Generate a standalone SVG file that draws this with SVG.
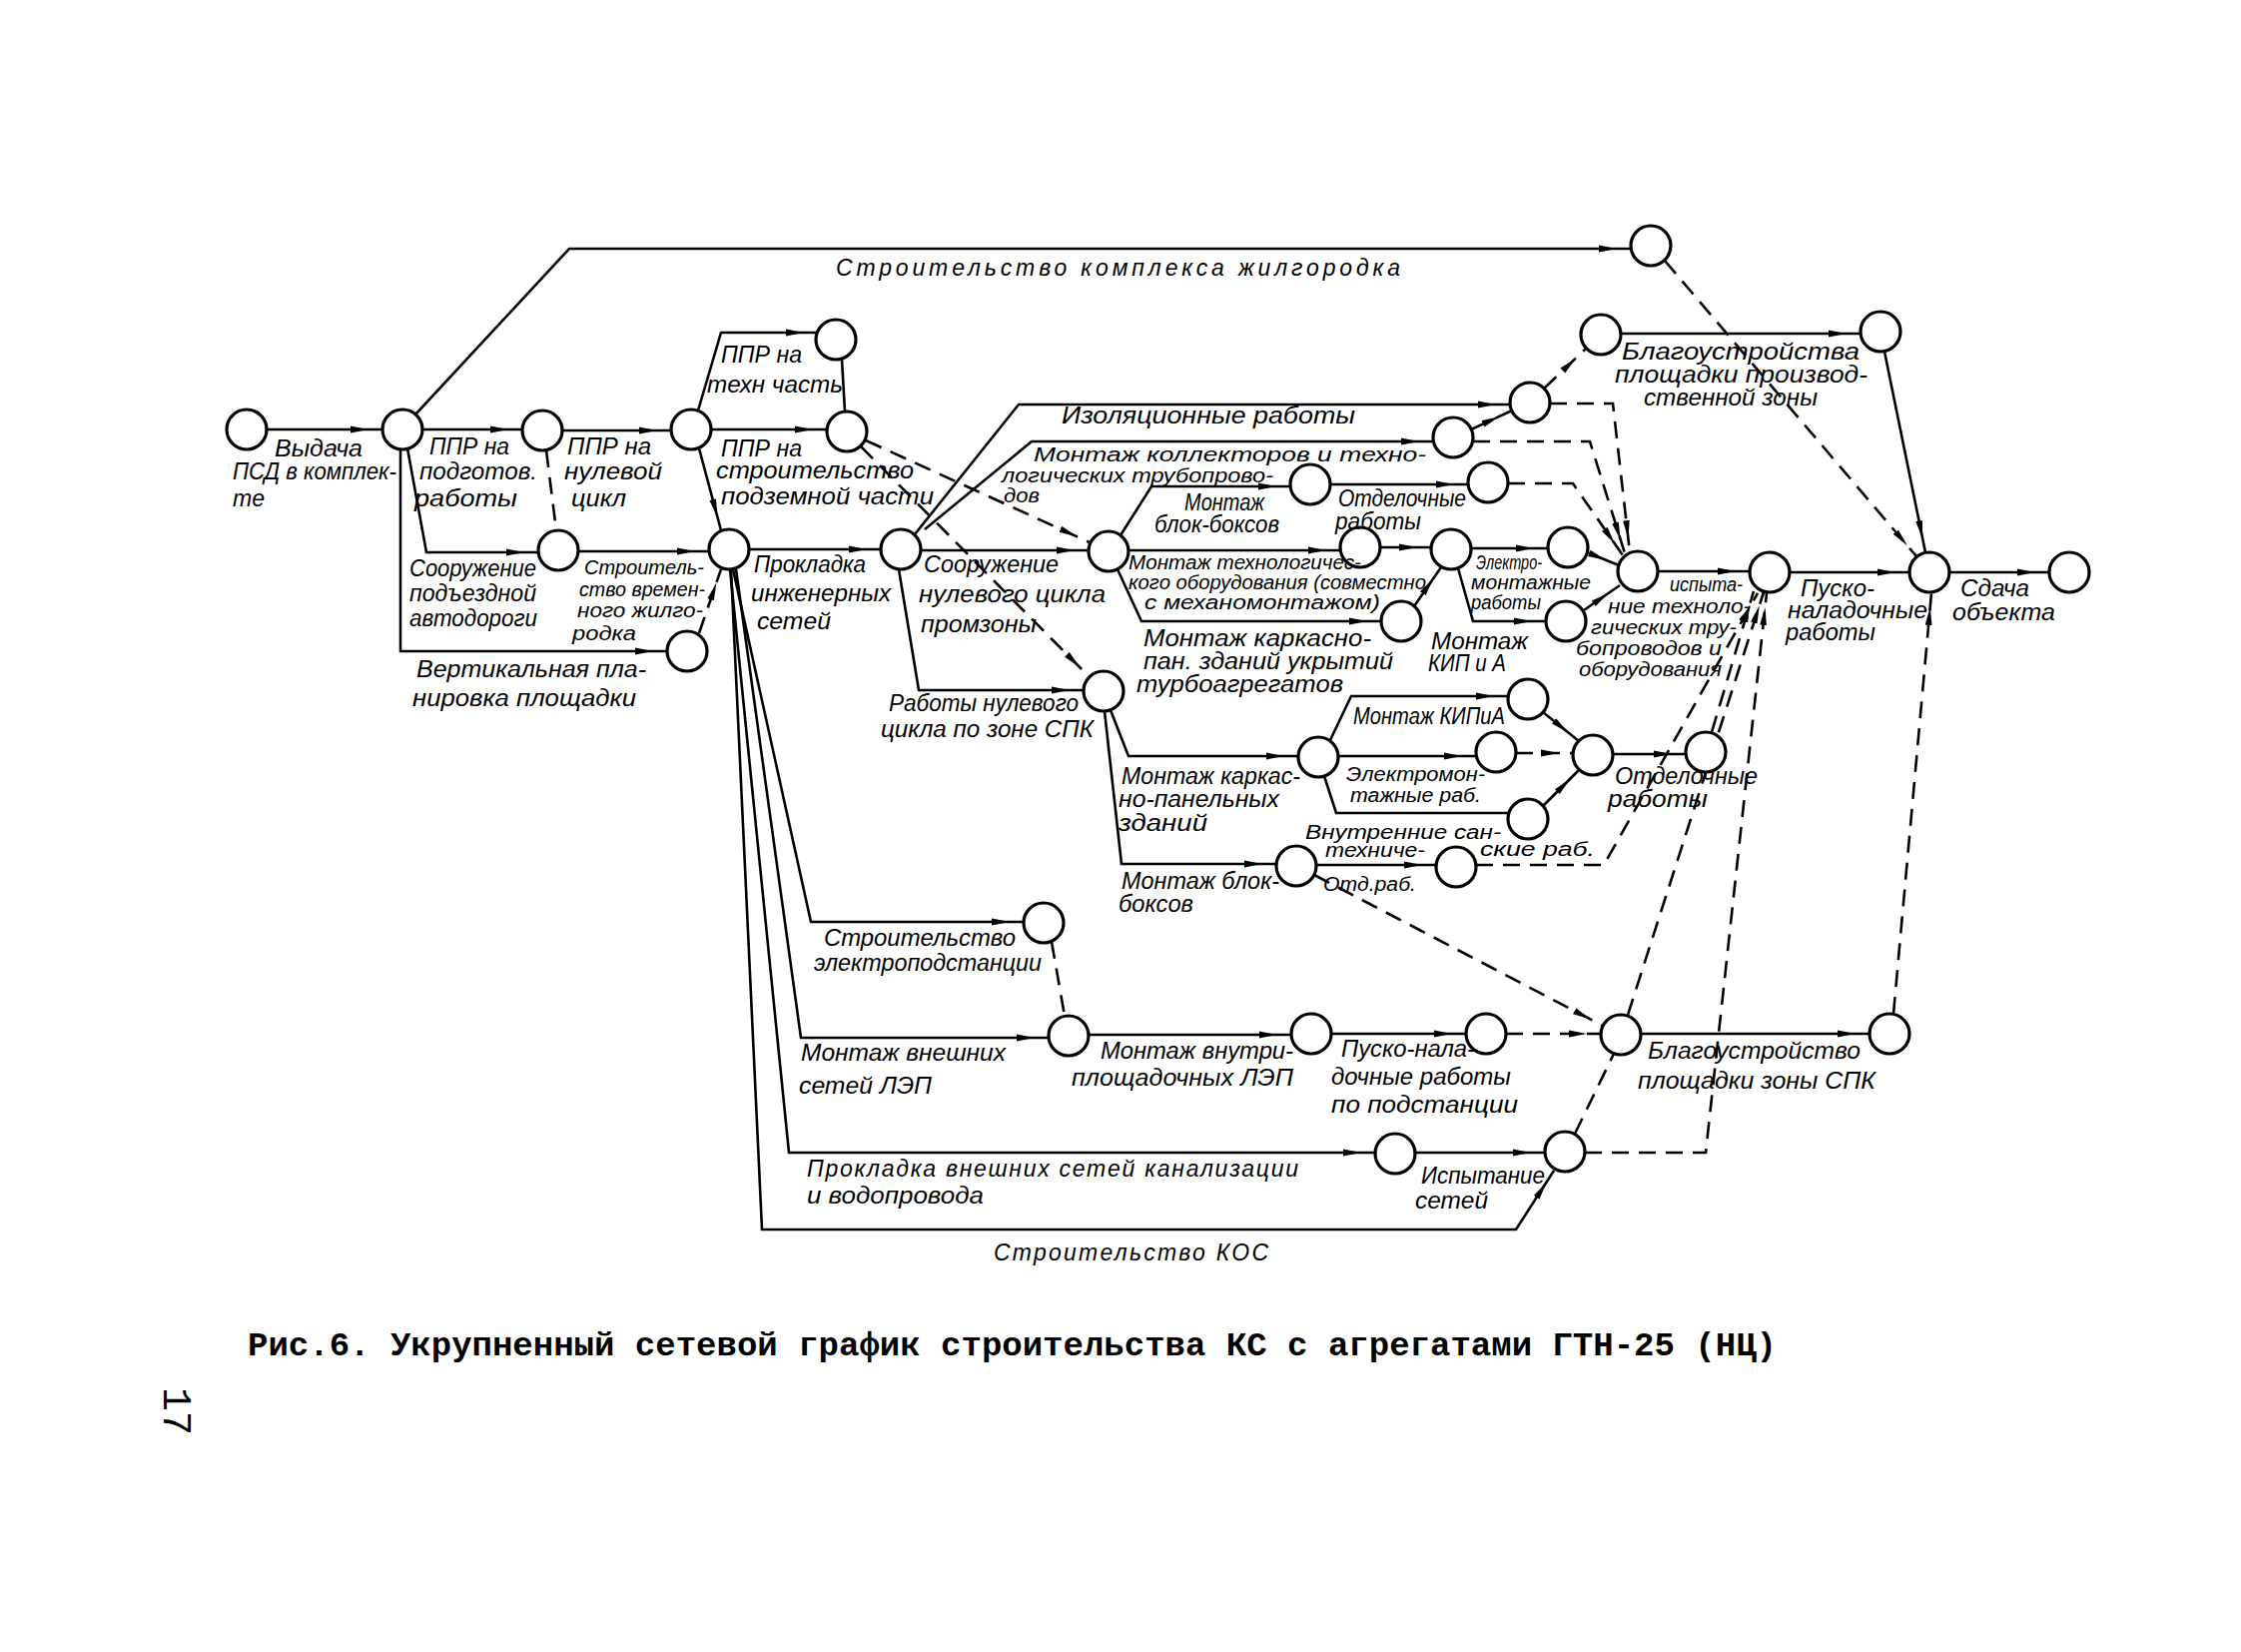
<svg xmlns="http://www.w3.org/2000/svg" width="2244" height="1654" viewBox="0 0 2244 1654">
<defs>
<marker id="ah" viewBox="0 0 34 10" refX="32" refY="5" markerWidth="34" markerHeight="10" markerUnits="userSpaceOnUse" orient="auto"><path d="M0,1.6 L18,5 L0,8.4 Z" fill="#000"/></marker>
<style>
.c{fill:none;stroke:#000;stroke-width:2.6}
.d{stroke-dasharray:17 10}
.a{marker-end:url(#ah)}
.n{fill:#fff;stroke:#000;stroke-width:3.2}
.t{font-family:"Liberation Sans",Arial,sans-serif;font-style:italic;font-size:23px;fill:#000}
.s{font-size:20px}
.cap{font-family:"Liberation Mono","Courier New",monospace;font-weight:bold;font-size:34px;fill:#000}
</style>
</defs>
<rect width="2244" height="1654" fill="#fff"/>
<g id="connectors">
<path class="c a" d="M267,430 H383"/>
<path class="c a" d="M423,430 H523"/>
<path class="c a" d="M563,431 H672"/>
<path class="c a" d="M416,415 L570,249 H1633"/>
<path class="c a" d="M408,449 L427,553 H539"/>
<path class="c a" d="M401,450 V652 H668"/>
<path class="c d" d="M547,451 L557,531"/>
<path class="c a" d="M699,411 L722,333 H819"/>
<path class="c a" d="M712,430 H828"/>
<path class="c" d="M843,360 L846,412"/>
<path class="c a" d="M700,449 L722,531"/>
<path class="c a" d="M579,552 H710"/>
<path class="c d a" d="M700,634 L722,570"/>
<path class="c d a" d="M867,441 L1091,543"/>
<path class="c d a" d="M862,447 L1091,678"/>
<path class="c a" d="M750,550 H882"/>
<path class="c a" d="M922,551 H1090"/>
<path class="c a" d="M900,570 L920,691 H1085"/>
<path class="c a" d="M916,535 L1020,405 H1512"/>
<path class="c a" d="M926,530 L1033,442 H1435"/>
<path class="c a" d="M1122,536 L1153,487 H1292"/>
<path class="c a" d="M1130,551 H1342"/>
<path class="c a" d="M1119,570 L1143,622 H1383"/>
<path class="c a" d="M1332,485 H1470"/>
<path class="c a" d="M1382,548 H1433"/>
<path class="c a" d="M1473,549 H1550"/>
<path class="c a" d="M1460,569 L1475,622 H1548"/>
<path class="c a" d="M1416,607 L1443,568"/>
<path class="c a" d="M1589,553 L1621,566"/>
<path class="c a" d="M1586,611 L1622,586"/>
<path class="c d a" d="M1546,389 L1588,349"/>
<path class="c d a" d="M1473,430 L1514,411"/>
<path class="c d a" d="M1552,404 H1615 L1632,553"/>
<path class="c d a" d="M1475,442 H1592 L1627,554"/>
<path class="c d a" d="M1510,484 H1575 L1625,556"/>
<path class="c a" d="M1623,334 H1863"/>
<path class="c d a" d="M1667,261 L1919,557"/>
<path class="c a" d="M1887,352 L1928,553"/>
<path class="c a" d="M1660,572 H1752"/>
<path class="c a" d="M1792,573 H1912"/>
<path class="c a" d="M1952,573 H2052"/>
<path class="c a" d="M1112,711 L1130,757 H1300"/>
<path class="c a" d="M1106,712 L1123,865 H1278"/>
<path class="c a" d="M1332,741 L1353,697 H1510"/>
<path class="c a" d="M1340,757 H1478"/>
<path class="c" d="M1326,777 L1338,814 H1510"/>
<path class="c a" d="M1545,713 L1581,742"/>
<path class="c d a" d="M1518,754 H1575"/>
<path class="c a" d="M1545,807 L1582,770"/>
<path class="c a" d="M1615,755 H1688"/>
<path class="c a" d="M1318,866 H1438"/>
<path class="c d a" d="M1478,866 H1606 L1760,594"/>
<path class="c d a" d="M1316,876 L1605,1027"/>
<path class="c d" d="M1053,943 L1066,1017"/>
<path class="c a" d="M1090,1036 H1293"/>
<path class="c a" d="M1333,1035 H1468"/>
<path class="c d a" d="M1508,1035 H1603"/>
<path class="c a" d="M1643,1035 H1872"/>
<path class="c d a" d="M1896,1015 L1934,594"/>
<path class="c a" d="M1417,1154 H1547"/>
<path class="c d" d="M1577,1135 L1616,1055"/>
<path class="c d a" d="M1587,1154 H1708 L1769,594"/>
<path class="c d a" d="M1630,1016 L1766,593"/>
<path class="c d a" d="M1714,733 L1756,592"/>
<path class="c a" d="M732,570 L763,1231 H1518 L1556,1172"/>
<path class="c a" d="M731,570 L790,1154 H1377"/>
<path class="c a" d="M737,570 L802,1039 H1050"/>
<path class="c a" d="M734,570 L812,923 H1025"/>
</g>
<g id="n1"><circle class="n" cx="247" cy="430" r="20"/></g>
<g id="n2"><circle class="n" cx="403" cy="430" r="20"/></g>
<g id="n3"><circle class="n" cx="543" cy="431" r="20"/></g>
<g id="n4"><circle class="n" cx="692" cy="430" r="20"/></g>
<g id="n5"><circle class="n" cx="837" cy="340" r="20"/></g>
<g id="n6"><circle class="n" cx="848" cy="432" r="20"/></g>
<g id="n7"><circle class="n" cx="559" cy="551" r="20"/></g>
<g id="n8"><circle class="n" cx="688" cy="652" r="20"/></g>
<g id="n9"><circle class="n" cx="730" cy="550" r="20"/></g>
<g id="n10"><circle class="n" cx="902" cy="550" r="20"/></g>
<g id="n11"><circle class="n" cx="1110" cy="552" r="20"/></g>
<g id="n12"><circle class="n" cx="1105" cy="692" r="20"/></g>
<g id="n13"><circle class="n" cx="1653" cy="246" r="20"/></g>
<g id="n14"><circle class="n" cx="1603" cy="335" r="20"/></g>
<g id="n15"><circle class="n" cx="1883" cy="332" r="20"/></g>
<g id="n16"><circle class="n" cx="1532" cy="403" r="20"/></g>
<g id="n17"><circle class="n" cx="1455" cy="438" r="20"/></g>
<g id="n18"><circle class="n" cx="1312" cy="485" r="20"/></g>
<g id="n19"><circle class="n" cx="1490" cy="483" r="20"/></g>
<g id="n20"><circle class="n" cx="1362" cy="548" r="20"/></g>
<g id="n21"><circle class="n" cx="1453" cy="550" r="20"/></g>
<g id="n22"><circle class="n" cx="1570" cy="548" r="20"/></g>
<g id="n23"><circle class="n" cx="1568" cy="622" r="20"/></g>
<g id="n24"><circle class="n" cx="1403" cy="622" r="20"/></g>
<g id="n25"><circle class="n" cx="1640" cy="572" r="20"/></g>
<g id="n26"><circle class="n" cx="1772" cy="573" r="20"/></g>
<g id="n27"><circle class="n" cx="1932" cy="573" r="20"/></g>
<g id="n28"><circle class="n" cx="2072" cy="573" r="20"/></g>
<g id="n29"><circle class="n" cx="1320" cy="758" r="20"/></g>
<g id="n30"><circle class="n" cx="1530" cy="700" r="20"/></g>
<g id="n31"><circle class="n" cx="1498" cy="753" r="20"/></g>
<g id="n32"><circle class="n" cx="1530" cy="820" r="20"/></g>
<g id="n33"><circle class="n" cx="1595" cy="756" r="20"/></g>
<g id="n34"><circle class="n" cx="1708" cy="753" r="20"/></g>
<g id="n35"><circle class="n" cx="1298" cy="867" r="20"/></g>
<g id="n36"><circle class="n" cx="1458" cy="868" r="20"/></g>
<g id="n37"><circle class="n" cx="1045" cy="924" r="20"/></g>
<g id="n38"><circle class="n" cx="1070" cy="1037" r="20"/></g>
<g id="n39"><circle class="n" cx="1313" cy="1035" r="20"/></g>
<g id="n40"><circle class="n" cx="1488" cy="1035" r="20"/></g>
<g id="n41"><circle class="n" cx="1623" cy="1036" r="20"/></g>
<g id="n42"><circle class="n" cx="1892" cy="1035" r="20"/></g>
<g id="n43"><circle class="n" cx="1397" cy="1155" r="20"/></g>
<g id="n44"><circle class="n" cx="1567" cy="1153" r="20"/></g>
<g id="labels" class="t">
<text x="275" y="457" textLength="88" lengthAdjust="spacingAndGlyphs">Выдача</text>
<text x="233" y="480" textLength="164" lengthAdjust="spacingAndGlyphs">ПСД в комплек-</text>
<text x="233" y="507" textLength="32" lengthAdjust="spacingAndGlyphs">те</text>
<text x="430" y="455" textLength="80" lengthAdjust="spacingAndGlyphs">ППР на</text>
<text x="420" y="480" textLength="118" lengthAdjust="spacingAndGlyphs">подготов.</text>
<text x="415" y="507" textLength="103" lengthAdjust="spacingAndGlyphs">работы</text>
<text x="568" y="455" textLength="84" lengthAdjust="spacingAndGlyphs">ППР на</text>
<text x="565" y="480" textLength="98" lengthAdjust="spacingAndGlyphs">нулевой</text>
<text x="572" y="507" textLength="55" lengthAdjust="spacingAndGlyphs">цикл</text>
<text x="410" y="577" textLength="127" lengthAdjust="spacingAndGlyphs">Сооружение</text>
<text x="410" y="602" textLength="127" lengthAdjust="spacingAndGlyphs">подъездной</text>
<text x="410" y="627" textLength="128" lengthAdjust="spacingAndGlyphs">автодороги</text>
<g class="s">
<text x="585" y="575" textLength="120" lengthAdjust="spacingAndGlyphs">Строитель-</text>
<text x="580" y="597" textLength="126" lengthAdjust="spacingAndGlyphs">ство времен-</text>
<text x="578" y="618" textLength="126" lengthAdjust="spacingAndGlyphs">ного жилго-</text>
<text x="573" y="641" textLength="64" lengthAdjust="spacingAndGlyphs">родка</text>
</g>
<text x="417" y="678" textLength="230" lengthAdjust="spacingAndGlyphs">Вертикальная пла-</text>
<text x="413" y="707" textLength="224" lengthAdjust="spacingAndGlyphs">нировка площадки</text>
<text x="722" y="363" textLength="81" lengthAdjust="spacingAndGlyphs">ППР на</text>
<text x="708" y="393" textLength="136" lengthAdjust="spacingAndGlyphs">техн часть</text>
<text x="722" y="457" textLength="81" lengthAdjust="spacingAndGlyphs">ППР на</text>
<text x="717" y="479" textLength="198" lengthAdjust="spacingAndGlyphs">строительство</text>
<text x="722" y="505" textLength="213" lengthAdjust="spacingAndGlyphs">подземной части</text>
<text x="755" y="573" textLength="112" lengthAdjust="spacingAndGlyphs">Прокладка</text>
<text x="752" y="602" textLength="140" lengthAdjust="spacingAndGlyphs">инженерных</text>
<text x="758" y="630" textLength="74" lengthAdjust="spacingAndGlyphs">сетей</text>
<text x="925" y="573" textLength="135" lengthAdjust="spacingAndGlyphs">Сооружение</text>
<text x="920" y="603" textLength="187" lengthAdjust="spacingAndGlyphs">нулевого цикла</text>
<text x="922" y="633" textLength="116" lengthAdjust="spacingAndGlyphs">промзоны</text>
<text x="1063" y="424" textLength="294" lengthAdjust="spacingAndGlyphs">Изоляционные  работы</text>
<g class="s">
<text x="1035" y="462" textLength="393" lengthAdjust="spacingAndGlyphs">Монтаж коллекторов и техно-</text>
<text x="1003" y="483" textLength="272" lengthAdjust="spacingAndGlyphs">логических трубопрово-</text>
<text x="1005" y="503" textLength="36" lengthAdjust="spacingAndGlyphs">дов</text>
</g>
<text x="1186" y="511" textLength="80" lengthAdjust="spacingAndGlyphs">Монтаж</text>
<text x="1156" y="533" textLength="125" lengthAdjust="spacingAndGlyphs">блок-боксов</text>
<text x="1340" y="507" textLength="128" lengthAdjust="spacingAndGlyphs">Отделочные</text>
<text x="1337" y="530" textLength="86" lengthAdjust="spacingAndGlyphs">работы</text>
<g class="s">
<text x="1130" y="570" textLength="233" lengthAdjust="spacingAndGlyphs">Монтаж технологичес-</text>
<text x="1130" y="590" textLength="298" lengthAdjust="spacingAndGlyphs">кого оборудования (совместно</text>
<text x="1146" y="610" textLength="236" lengthAdjust="spacingAndGlyphs">с механомонтажом)</text>
</g>
<text x="1145" y="647" textLength="228" lengthAdjust="spacingAndGlyphs">Монтаж каркасно-</text>
<text x="1145" y="670" textLength="250" lengthAdjust="spacingAndGlyphs">пан. зданий укрытий</text>
<text x="1138" y="693" textLength="207" lengthAdjust="spacingAndGlyphs">турбоагрегатов</text>
<g class="s">
<text x="1478" y="570" textLength="66" lengthAdjust="spacingAndGlyphs">Электро-</text>
<text x="1473" y="590" textLength="120" lengthAdjust="spacingAndGlyphs">монтажные</text>
<text x="1473" y="610" textLength="70" lengthAdjust="spacingAndGlyphs">работы</text>
</g>
<text x="1433" y="650" textLength="97" lengthAdjust="spacingAndGlyphs">Монтаж</text>
<text x="1430" y="672" textLength="78" lengthAdjust="spacingAndGlyphs">КИП и А</text>
<g class="s">
<text x="1672" y="592" textLength="73" lengthAdjust="spacingAndGlyphs">испыта-</text>
<text x="1610" y="614" textLength="143" lengthAdjust="spacingAndGlyphs">ние техноло-</text>
<text x="1593" y="635" textLength="146" lengthAdjust="spacingAndGlyphs">гических тру-</text>
<text x="1578" y="656" textLength="146" lengthAdjust="spacingAndGlyphs">бопроводов и</text>
<text x="1581" y="677" textLength="143" lengthAdjust="spacingAndGlyphs">оборудования</text>
</g>
<text x="1803" y="597" textLength="74" lengthAdjust="spacingAndGlyphs">Пуско-</text>
<text x="1790" y="619" textLength="140" lengthAdjust="spacingAndGlyphs">наладочные</text>
<text x="1788" y="641" textLength="90" lengthAdjust="spacingAndGlyphs">работы</text>
<text x="1963" y="597" textLength="69" lengthAdjust="spacingAndGlyphs">Сдача</text>
<text x="1955" y="621" textLength="103" lengthAdjust="spacingAndGlyphs">объекта</text>
<text x="1624" y="360" textLength="238" lengthAdjust="spacingAndGlyphs">Благоустройства</text>
<text x="1617" y="383" textLength="253" lengthAdjust="spacingAndGlyphs">площадки производ-</text>
<text x="1646" y="406" textLength="174" lengthAdjust="spacingAndGlyphs">ственной зоны</text>
<text x="837" y="276" textLength="565" lengthAdjust="spacing">Строительство  комплекса   жилгородка</text>
<text x="890" y="712" textLength="190" lengthAdjust="spacingAndGlyphs">Работы нулевого</text>
<text x="882" y="738" textLength="213" lengthAdjust="spacingAndGlyphs">цикла по зоне СПК</text>
<text x="1123" y="785" textLength="179" lengthAdjust="spacingAndGlyphs">Монтаж каркас-</text>
<text x="1120" y="808" textLength="161" lengthAdjust="spacingAndGlyphs">но-панельных</text>
<text x="1120" y="832" textLength="89" lengthAdjust="spacingAndGlyphs">зданий</text>
<text x="1123" y="890" textLength="158" lengthAdjust="spacingAndGlyphs">Монтаж блок-</text>
<text x="1120" y="913" textLength="75" lengthAdjust="spacingAndGlyphs">боксов</text>
<text x="1355" y="725" textLength="152" lengthAdjust="spacingAndGlyphs">Монтаж КИПиА</text>
<g class="s">
<text x="1348" y="782" textLength="139" lengthAdjust="spacingAndGlyphs">Электромон-</text>
<text x="1352" y="803" textLength="131" lengthAdjust="spacingAndGlyphs">тажные раб.</text>
<text x="1307" y="840" textLength="196" lengthAdjust="spacingAndGlyphs">Внутренние сан-</text>
<text x="1327" y="858" textLength="100" lengthAdjust="spacingAndGlyphs">техниче-</text>
<text x="1482" y="857" textLength="115" lengthAdjust="spacingAndGlyphs">ские раб.</text>
<text x="1325" y="892" textLength="93" lengthAdjust="spacingAndGlyphs">Отд.раб.</text>
</g>
<text x="1617" y="785" textLength="143" lengthAdjust="spacingAndGlyphs">Отделочные</text>
<text x="1610" y="808" textLength="100" lengthAdjust="spacingAndGlyphs">работы</text>
<text x="825" y="947" textLength="192" lengthAdjust="spacingAndGlyphs">Строительство</text>
<text x="815" y="972" textLength="228" lengthAdjust="spacingAndGlyphs">электроподстанции</text>
<text x="802" y="1062" textLength="205" lengthAdjust="spacingAndGlyphs">Монтаж  внешних</text>
<text x="800" y="1095" textLength="133" lengthAdjust="spacingAndGlyphs">сетей  ЛЭП</text>
<text x="1102" y="1060" textLength="193" lengthAdjust="spacingAndGlyphs">Монтаж внутри-</text>
<text x="1073" y="1087" textLength="222" lengthAdjust="spacingAndGlyphs">площадочных ЛЭП</text>
<text x="1343" y="1058" textLength="134" lengthAdjust="spacingAndGlyphs">Пуско-нала-</text>
<text x="1333" y="1086" textLength="180" lengthAdjust="spacingAndGlyphs">дочные работы</text>
<text x="1333" y="1114" textLength="187" lengthAdjust="spacingAndGlyphs">по подстанции</text>
<text x="1650" y="1060" textLength="213" lengthAdjust="spacingAndGlyphs">Благоустройство</text>
<text x="1640" y="1090" textLength="238" lengthAdjust="spacingAndGlyphs">площадки зоны СПК</text>
<text x="808" y="1178" textLength="492" lengthAdjust="spacing">Прокладка  внешних  сетей  канализации</text>
<text x="808" y="1205" textLength="177" lengthAdjust="spacingAndGlyphs">и водопровода</text>
<text x="1423" y="1185" textLength="124" lengthAdjust="spacingAndGlyphs">Испытание</text>
<text x="1417" y="1210" textLength="73" lengthAdjust="spacingAndGlyphs">сетей</text>
<text x="995" y="1262" textLength="275" lengthAdjust="spacing">Строительство  КОС</text>
</g>
<text class="cap" x="248" y="1357" textLength="1531" lengthAdjust="spacingAndGlyphs">Рис.6. Укрупненный сетевой график строительства КС с агрегатами ГТН-25 (НЦ)</text>
<text x="0" y="0" transform="translate(164,1413) rotate(90)" font-family="Liberation Mono, monospace" font-size="40" text-anchor="middle">17</text>
</svg>
